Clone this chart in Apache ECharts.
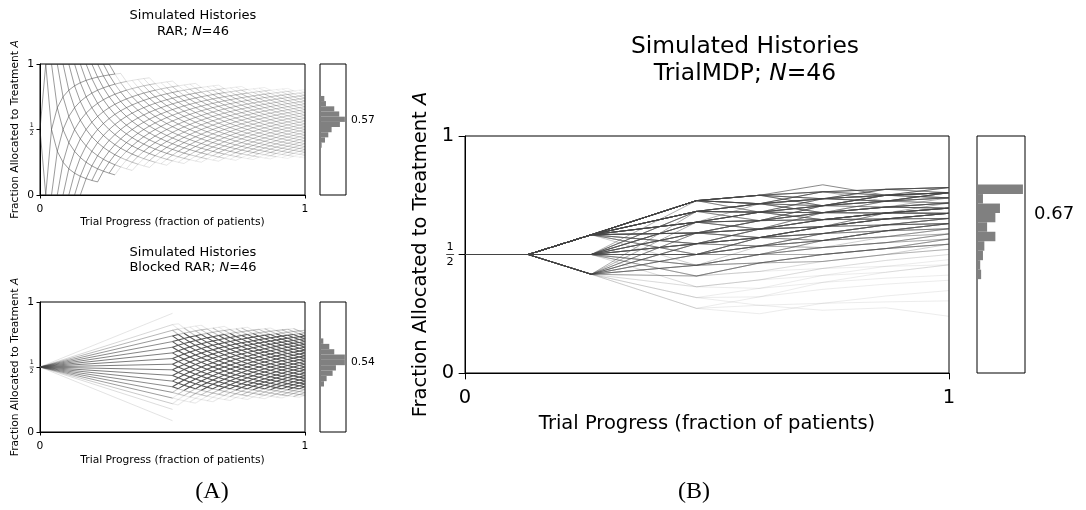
<!DOCTYPE html>
<html><head><meta charset="utf-8">
<script src="https://cdn.jsdelivr.net/npm/echarts@6/dist/echarts.min.js"></script>
<style>html,body{margin:0;padding:0;background:#fff}#c{width:1086px;height:510px}</style>
</head><body><div id="c"></div>
<script>
// ---------------- DATA ----------------
const N_PATIENTS = 46;
const xTicks = ['0', '1'];
// RAR: reachable allocation counts k (patients on A) after n patients, n = 0..46
const rarKMin = [0, 0,0,0,0,0,0,0, 1,1,1, 2,2,2, 3,3,3, 4,4,4, 5,5,5, 6,6,6, 7,7,7, 8,8,8, 9,9,9, 10,10,10, 11,11,11, 12,12,12, 13,13,13];
const rarKMax = [0, 1,2,3,4,5,6,7,8,9,10,11,12, 12,13,13,14,15,16,17,17,18,19,20,20,21,22,23,23,24,25,26,26,27,28,29,29,30,31,32,32,33,34,35,35,36,37];
const rarHistEdges = [0.36,0.40,0.44,0.479,0.519,0.558,0.598,0.638,0.677,0.717,0.756];
const rarHistCounts = [5,15,25,35,60,75,58,43,18,13];
const rarMean = 0.57;
// Blocked RAR: first block ends after 23 patients
const blkBlockN = 23;
const blkFanK = [2,4,5,6,7,8,9,10,11,12,13,14,15,16,17,18,19,21];
const blkFanW = [0.1,0.15,0.3,0.65,0.75,0.8,0.85,0.9,0.9,0.9,0.9,0.9,0.85,0.8,0.7,0.45,0.2,0.08];
const blkKMin = [5,5,6,6,6,7,7,7,8,8,8,9,9,9,10,10,10,11,11,11,12,12,12,13];       // n = 23..46
const blkKMax = [19,20,20,21,22,23,23,24,25,26,26,27,28,29,29,30,31,32,32,33,34,35,35,36]; // n = 23..46
const blkHistEdges = [0.35,0.391,0.432,0.473,0.514,0.555,0.596,0.637,0.678,0.72];
const blkHistCounts = [12,20,38,48,75,75,43,28,10];
const blkMean = 0.54;
// TrialMDP: patients on A at n = 12, 22, 28, 34, 40, 46 (3 of the first 6 always)
const mdpCheckN = [0, 6, 12, 22, 28, 34, 40, 46];
const mdpFirstK = 3;
const mdpPathsDark = [
 [7,16,21,26,31,36],[7,16,21,24,30,35],[7,16,21,25,29,35],[7,16,21,27,30,34],[7,16,20,26,31,36],
 [7,16,20,25,31,35],[7,16,21,25,31,36],[7,16,20,24,30,35],[7,15,20,25,30,35],[7,15,20,26,30,36],
 [7,15,19,25,29,35],[7,14,19,24,29,35]
];
const mdpPathsMid = [
 [7,16,20,23,28,34],[7,16,19,25,30,36],[7,16,19,23,29,33],[7,16,21,26,29,33],[7,15,19,24,30,34],
 [7,15,18,24,29,34],[7,15,18,22,27,32],[7,15,20,24,28,33],[7,15,19,23,28,32],[7,14,18,23,28,33],
 [7,14,18,24,30,34],[7,14,17,22,27,31],[7,14,17,21,27,32],[7,14,19,23,27,31],[7,13,18,23,29,34],
 [7,13,17,22,27,32],[6,14,19,24,29,34],[6,14,18,23,28,33],[6,13,18,23,28,33],[6,13,17,22,27,32],
 [6,13,18,24,29,35],[6,12,17,22,27,32],[6,12,16,21,26,31],[6,15,20,25,30,35],[6,15,19,24,30,35],
 [6,16,21,26,30,35],[6,14,20,25,30,35],[5,12,17,22,27,32],[5,13,18,23,28,33],[5,13,17,22,27,31],
 [5,14,19,24,29,34],[5,15,20,25,30,35],[7,13,17,21,26,30],[7,13,16,21,26,31],[7,12,16,21,26,31],
 [6,11,16,21,26,31],[5,12,16,21,26,31],
 [7,15,19,22,27,33],[7,14,18,22,26,31],[7,14,17,23,28,32],[7,13,17,21,27,31],[6,13,16,21,26,30],
 [6,12,17,21,25,29],[6,12,15,20,25,29],[6,11,16,20,24,29],[6,13,17,23,28,32],[5,12,16,20,25,29],
 [5,11,16,21,25,30],[7,15,20,23,27,32],[7,16,20,23,27,31],[7,16,21,24,28,32],[6,14,19,22,27,32],
 [6,15,19,23,27,32],[7,14,19,22,26,30],[6,14,18,22,26,31]
];
const mdpPathsLight = [
 [7,13,16,20,24,29],[7,13,18,22,26,31],[7,12,16,20,24,28],[7,12,15,19,24,29],[7,12,17,21,25,30],
 [7,11,15,19,23,27],[7,11,14,18,23,28],[7,11,15,20,25,30],[6,12,16,20,25,30],[6,12,15,19,24,29],
 [6,11,15,20,25,30],[6,11,15,19,24,29],[6,11,14,19,23,28],[6,11,14,18,22,27],[6,10,14,19,24,28],
 [5,11,15,20,25,30],[5,11,16,20,25,29],[5,11,15,19,24,28],[5,10,14,19,24,29],[5,10,15,19,24,29],
 [7,10,13,17,21,25],[6,10,14,18,22,26],[6,10,13,17,21,25],[5,10,14,18,22,27],[5,9,13,17,21,26],
 [6,9,13,17,21,26],
 [7,12,16,19,23,27],[7,11,15,18,22,26],[6,11,15,18,22,27],[6,10,14,17,21,26],[5,10,14,17,21,25],
 [5,9,13,16,20,25],[6,12,16,19,23,28],[7,13,16,19,24,28],[5,10,13,17,21,25],[6,9,13,16,20,24]
];
const mdpPathsFaint = [
 [6,9,12,16,20,24],[6,9,12,15,19,23],[6,8,11,14,18,22],[6,8,11,15,18,21],[5,9,12,16,20,24],
 [5,8,11,15,19,23],[5,8,10,14,17,21],[5,7,10,13,16,19],[5,7,9,12,15,18],[5,6,7,10,13,16],
 [5,6,8,10,12,14],[5,7,8,9,11,11],[5,6,9,13,17,21]
];
const mdpHistEdges = [0.396,0.436,0.476,0.516,0.556,0.596,0.636,0.675,0.715,0.755,0.795];
const mdpHistCounts = [9,7,13,16,40,22,40,50,13,100];
const mdpMean = 0.67;

// ---------------- BUILD ----------------
const FONT = 'DejaVu Sans';
const fracOf = (n, k) => n === 0 ? 0.5 : k / n;
const xOf = n => n / N_PATIENTS;

function latticeEdges(nStart, kMinArr, kMaxArr, alphaFn) {
  const out = [];
  for (let i = 0; i < kMinArr.length - 1; i++) {
    const n = nStart + i;
    for (let k = kMinArr[i]; k <= kMaxArr[i]; k++) {
      for (const dk of [0, 1]) {
        const k2 = k + dk;
        if (k2 < kMinArr[i + 1] || k2 > kMaxArr[i + 1] || k2 > n + 1) continue;
        out.push({ coords: [[xOf(n), fracOf(n, k)], [xOf(n + 1), fracOf(n + 1, k2)]],
          lineStyle: { opacity: alphaFn(n, k, i, k2) } });
      }
    }
  }
  return out;
}
const rarEdges = latticeEdges(0, rarKMin, rarKMax, (n, k, i) => {
  const base = n < 14 ? 0.62 : 0.62 - 0.34 * (n - 14) / 32;
  if (n <= 12) return base;
  const d = Math.min(k - rarKMin[i], rarKMax[i] - k);
  return base * (d === 0 ? 0.3 : d === 1 ? 0.65 : 1);
});
const blkEdges = latticeEdges(blkBlockN, blkKMin, blkKMax, (n, k, i, k2) => {
  const f = (fracOf(n, k) + fracOf(n + 1, k2)) / 2;
  if (f >= 0.33 && f <= 0.75) return 1;
  if (f >= 0.28 && f <= 0.79) return 0.35;
  return 0.12;
});
const blkFan = blkFanK.map((k, i) => ({ coords: [[0, 0.5], [xOf(blkBlockN), fracOf(blkBlockN, k)]],
  lineStyle: { opacity: 0.1 + 0.8 * blkFanW[i] } }));
function mdpGroup(paths, alpha) {
  return paths.map(ks => ({
    coords: [[0, 0.5], [xOf(mdpCheckN[1]), fracOf(mdpCheckN[1], mdpFirstK)]]
      .concat(ks.map((k, j) => [xOf(mdpCheckN[j + 2]), fracOf(mdpCheckN[j + 2], k)])),
    lineStyle: { opacity: alpha } }));
}
const mdpLines = [].concat(mdpGroup(mdpPathsFaint, 0.12), mdpGroup(mdpPathsLight, 0.3),
  mdpGroup(mdpPathsMid, 0.5), mdpGroup(mdpPathsDark, 0.75));

function histData(edges, counts) { return counts.map((c, i) => [edges[i], edges[i + 1], c]); }

const L = [
  { grid: { left: 40, top: 64, width: 265, height: 131 }, hist: { left: 320, top: 64, width: 26, height: 131 }, s: 1 },
  { grid: { left: 40, top: 302, width: 265, height: 130 }, hist: { left: 320, top: 302, width: 26, height: 130 }, s: 1 },
  { grid: { left: 465, top: 136, width: 484, height: 237 }, hist: { left: 977, top: 136, width: 48, height: 237 }, s: 1.82 }
];
const grids = [], xAxes = [], yAxes = [];
const means = [rarMean, blkMean, mdpMean];
const hcounts = [rarHistCounts, blkHistCounts, mdpHistCounts];
L.forEach((p, i) => {
  const s = p.s;
  const fs = 10.7 * s;
  const frs = 6.2 * s;
  grids.push(Object.assign({ show: true, borderColor: '#000', borderWidth: 1, backgroundColor: 'transparent' }, p.grid));
  grids.push(Object.assign({ show: true, borderColor: '#000', borderWidth: 1, backgroundColor: 'transparent' }, p.hist));
  xAxes.push({ gridIndex: 2 * i, type: 'value', min: 0, max: 1, interval: 1,
    axisLine: { show: true, lineStyle: { color: '#000', width: 1 } },
    axisTick: { show: true, length: 3.5 * s, lineStyle: { color: '#000', width: 1 } },
    splitLine: { show: false },
    axisLabel: { fontFamily: FONT, fontSize: fs, color: '#000', margin: 8.5 * s, formatter: v => xTicks[v] } });
  xAxes.push({ gridIndex: 2 * i + 1, type: 'value', min: 0, max: Math.max(...hcounts[i]) * 1.045, show: false });
  yAxes.push({ gridIndex: 2 * i, type: 'value', min: 0, max: 1, interval: 0.5,
    axisLine: { show: true, lineStyle: { color: '#000', width: 1 } },
    axisTick: { show: true, length: 3.5 * s, lineStyle: { color: '#000', width: 1 } },
    splitLine: { show: false },
    axisLabel: { fontFamily: FONT, fontSize: fs, color: '#000', margin: 6 * s,
      formatter: v => v === 0.5 ? '{n|1}\n{b|}\n{d|2}' : (v === 0 ? '0' : '1'),
      rich: { n: { fontFamily: FONT, fontSize: frs, lineHeight: frs * 1.05, color: '#000', align: 'center' },
              b: { width: frs * 0.7, height: Math.max(0.6, 0.4 * s), lineHeight: 2 * s, backgroundColor: '#000', align: 'center' },
              d: { fontFamily: FONT, fontSize: frs, lineHeight: frs * 1.05, color: '#000', align: 'center' } } } });
  yAxes.push({ gridIndex: 2 * i + 1, type: 'value', min: 0, max: 1, position: 'right',
    axisLine: { show: false }, splitLine: { show: false },
    axisTick: { show: true, customValues: [means[i]], length: 3.5 * s, lineStyle: { color: '#000', width: 1 } },
    axisLabel: { show: true, customValues: [means[i]], fontFamily: FONT, fontSize: i === 2 ? 18 : fs, color: '#000',
      margin: 5 * s, formatter: v => v.toFixed(2) } });
});

const linesBase = { type: 'lines', coordinateSystem: 'cartesian2d', large: false, silent: true, animation: false,
  polyline: false, lineStyle: { color: '#333', width: 0.8 }, z: 3 };
const histBase = (xi, data) => ({ type: 'custom', xAxisIndex: xi, yAxisIndex: xi, silent: true, animation: false, z: 3,
  data, renderItem: (params, api) => {
    const p0 = api.coord([0, api.value(1)]);
    const p1 = api.coord([api.value(2), api.value(0)]);
    return { type: 'rect', shape: { x: p0[0], y: p0[1], width: p1[0] - p0[0], height: p1[1] - p0[1] },
      style: { fill: '#808080' } };
  } });

const series = [
  Object.assign({}, linesBase, { xAxisIndex: 0, yAxisIndex: 0, data: rarEdges }),
  histBase(1, histData(rarHistEdges, rarHistCounts)),
  Object.assign({}, linesBase, { xAxisIndex: 2, yAxisIndex: 2, data: blkFan, lineStyle: { color: '#444', width: 0.85 } }),
  Object.assign({}, linesBase, { xAxisIndex: 2, yAxisIndex: 2, data: blkEdges, lineStyle: { color: '#555', width: 1.05 } }),
  histBase(3, histData(blkHistEdges, blkHistCounts)),
  Object.assign({}, linesBase, { xAxisIndex: 4, yAxisIndex: 4, polyline: true, data: mdpLines,
    lineStyle: { color: '#444', width: 0.85 } }),
  histBase(5, histData(mdpHistEdges, mdpHistCounts))
];

function txt(x, y, text, size, extra) {
  const st = Object.assign({ text, fontSize: size, fontFamily: FONT, fill: '#000',
    align: 'center', textAlign: 'center', verticalAlign: 'middle', textVerticalAlign: 'middle',
    rich: { i: { fontSize: size, fontFamily: FONT, fontStyle: 'italic', fill: '#000' } } }, extra && extra.style);
  return Object.assign({ type: 'text', x, y, style: st, silent: true }, extra && extra.el);
}
const rot = { el: { rotation: Math.PI / 2 } };
const graphic = [
  txt(193, 16, 'Simulated Histories', 13),
  txt(193, 32, 'RAR; {i|N}=46', 13),
  txt(172.5, 222, 'Trial Progress (fraction of patients)', 10.7),
  txt(15, 129.5, 'Fraction Allocated to Treatment {i|A}', 10.7, rot),
  txt(193, 253, 'Simulated Histories', 13),
  txt(193, 268, 'Blocked RAR; {i|N}=46', 13),
  txt(172.5, 460, 'Trial Progress (fraction of patients)', 10.7),
  txt(15, 367, 'Fraction Allocated to Treatment {i|A}', 10.7, rot),
  txt(745, 47, 'Simulated Histories', 23.4),
  txt(745, 74, 'TrialMDP; {i|N}=46', 23.4),
  txt(707, 424, 'Trial Progress (fraction of patients)', 19.5),
  txt(421, 254.5, 'Fraction Allocated to Treatment {i|A}', 19.5, rot),
  txt(212, 492, '(A)', 24, { style: { fontFamily: 'Liberation Serif' } }),
  txt(694, 492, '(B)', 24, { style: { fontFamily: 'Liberation Serif' } })
];

const chart = echarts.init(document.getElementById('c'), null, { renderer: 'canvas' });
chart.setOption({ animation: false, backgroundColor: '#fff', textStyle: { fontFamily: FONT },
  grid: grids, xAxis: xAxes, yAxis: yAxes, series, graphic });
</script></body></html>
